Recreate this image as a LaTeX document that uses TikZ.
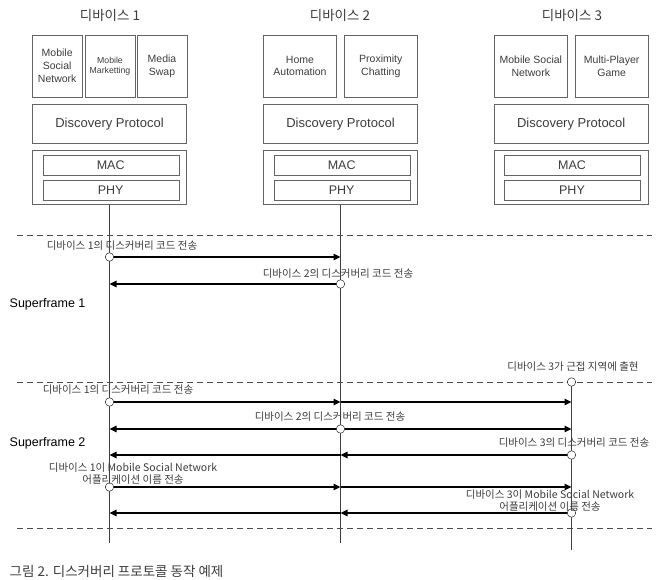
\documentclass[tikz,border=0pt]{standalone}
\usepackage{fontspec}
\setmainfont{Liberation Sans}
\newfontfamily\kr{Noto Sans CJK KR}
\usetikzlibrary{arrows.meta}
\definecolor{txtgray}{RGB}{60,60,60}
\definecolor{boxgray}{RGB}{100,100,100}
\begin{document}
\begin{tikzpicture}[x=1pt,y=-1pt]
\tikzstyle{app}=[draw=boxgray,minimum width=73pt,minimum height=62pt,inner sep=1pt,align=center,font=\fontsize{10.5}{12.8}\selectfont,text=txtgray]
\tikzstyle{layer}=[draw=boxgray,minimum width=154pt,inner sep=0pt,text=txtgray]
\tikzstyle{sub}=[draw=boxgray,minimum width=136pt,minimum height=20pt,inner sep=0pt,font=\fontsize{12.5}{14}\selectfont,text=txtgray]
\tikzstyle{dev}=[font=\kr\fontsize{13.5}{15}\selectfont,text=txtgray]
\tikzstyle{msg}=[font=\kr\fontsize{10.5}{12}\selectfont,text=txtgray,align=center,inner sep=1pt]
\tikzstyle{sf}=[font=\fontsize{12.5}{14}\selectfont,text=black,anchor=west,inner sep=0pt]
\tikzstyle{dot}=[draw,shape=circle,fill=white,inner sep=0pt,minimum size=8.5pt]
\tikzstyle{life}=[draw=black!75,line width=0.9pt]
\tikzstyle{sep}=[draw=black!70,dashed,dash pattern=on 6pt off 4pt,line width=0.8pt]
\tikzstyle{msgline}=[line width=1.5pt,-{Triangle[length=7pt,width=6.5pt]}]
\useasboundingbox (0,0) rectangle (667,580);

% devices
\node[dev] at (110,15) (t1) {디바이스 1};
\node[dev] at (340,15) (t2) {디바이스 2};
\node[dev] at (572,15) (t3) {디바이스 3};

\node[app,minimum width=49.5pt] at (57.2,66) (a11) {Mobile\\Social\\Network};
\node[app,minimum width=49.5pt,font=\fontsize{8.7}{10.4}\selectfont] at (110,66) (a12) {Mobile\\Marketting};
\node[app,minimum width=49.5pt] at (162,66) (a13) {Media\\Swap};
\node[app] at (300,66) (a21) {Home\\Automation};
\node[app] at (380.8,66) (a22) {Proximity\\Chatting};
\node[app] at (530.8,66) (a31) {Mobile Social\\Network};
\node[app] at (611.7,66) (a32) {Multi-Player\\Game};

\node[layer,minimum height=39.5pt,font=\fontsize{13}{15}\selectfont] at (109.5,123.7) (d1) {Discovery Protocol};
\node[layer,minimum height=39.5pt,font=\fontsize{13}{15}\selectfont] at (340.5,123.7) (d2) {Discovery Protocol};
\node[layer,minimum height=39.5pt,font=\fontsize{13}{15}\selectfont] at (571.2,123.7) (d3) {Discovery Protocol};

\node[layer,minimum height=54pt] at (109.5,177.7) (s1) {};
\node[layer,minimum height=54pt] at (340.5,177.7) (s2) {};
\node[layer,minimum height=54pt] at (571.2,177.7) (s3) {};
\node[sub] at (110.7,165.3) (m1) {MAC};
\node[sub] at (110.7,190) (p1) {PHY};
\node[sub] at (341.7,165.3) (m2) {MAC};
\node[sub] at (341.7,190) (p2) {PHY};
\node[sub] at (572,165.3) (m3) {MAC};
\node[sub] at (572,190) (p3) {PHY};

% lifelines
\coordinate (e1) at (109.5,543);
\coordinate (e2) at (340.5,543);
\coordinate (e3) at (571.5,550);
\draw[life] (s1.south) -- (e1);
\draw[life] (s2.south) -- (e2);

% superframe borders
\coordinate (l0) at (17,235);  \coordinate (r0) at (652,235);
\coordinate (l1) at (17,382);  \coordinate (r1) at (652,382);
\coordinate (l2) at (17,528);  \coordinate (r2) at (652,528);
\draw[sep] (l0) -- (r0);
\draw[sep] (l1) -- (r1);
\draw[sep] (l2) -- (r2);

\node[sf] at (9.5,304) (sf1) {Superframe 1};
\node[sf] at (9.5,443) (sf2) {Superframe 2};

% superframe 1
\node[dot] at (571.5,382) (n3) {};
\draw[life] (n3) -- (e3);

\coordinate (y1b) at (340.5,257);
\coordinate (y2a) at (109.5,284);
\node[dot] at (109.5,257) (y1) {};
\node[dot] at (340.5,284) (y2) {};
\draw[msgline] (y1) -- (y1b);
\draw[msgline] (y2) -- (y2a);
\node[msg] at (122,246) (txt1) {디바이스 1의 디스커버리 코드 전송};
\node[msg] at (338,273.5) (txt2) {디바이스 2의 디스커버리 코드 전송};
\node[msg] at (573,366.5) (txt3) {디바이스 3가 근접 지역에 출현};

% superframe 2
\coordinate (z1b) at (340.5,402);  \coordinate (z1c) at (571.5,402);
\coordinate (z2a) at (109.5,429);  \coordinate (z2c) at (571.5,429);
\coordinate (z3b) at (340.5,455);  \coordinate (z3a) at (109.5,455);
\coordinate (z4b) at (340.5,487);  \coordinate (z4c) at (571.5,487);
\coordinate (z5b) at (340.5,513);  \coordinate (z5a) at (109.5,513);
\node[dot] at (109.5,402) (z1) {};
\node[dot] at (340.5,429) (z2) {};
\node[dot] at (571.5,455) (z3) {};
\node[dot] at (109.5,487) (z4) {};
\node[dot] at (571.5,513) (z5) {};

\draw[msgline] (z1) -- (z1b);
\draw[msgline] (z1b) -- (z1c);
\draw[msgline] (z2) -- (z2a);
\draw[msgline] (z2) -- (z2c);
\draw[msgline] (z3) -- (z3b);
\draw[msgline] (z3b) -- (z3a);
\draw[msgline] (z4) -- (z4b);
\draw[msgline] (z4b) -- (z4c);
\draw[msgline] (z5) -- (z5b);
\draw[msgline] (z5b) -- (z5a);

\node[msg] at (118,390) (txt4) {디바이스 1의 디스커버리 코드 전송};
\node[msg] at (330,416.5) (txt5) {디바이스 2의 디스커버리 코드 전송};
\node[msg] at (574,442.5) (txt6) {디바이스 3의 디스커버리 코드 전송};
\node[msg] at (133,474) (txt7) {디바이스 1이 Mobile Social Network\\어플리케이션 이름 전송};
\node[msg] at (550,501) (txt8) {디바이스 3이 Mobile Social Network\\어플리케이션 이름 전송};

\node[anchor=west,font=\kr\fontsize{13.5}{15}\selectfont,text=txtgray,inner sep=0pt] at (9.5,571.5) (cap) {그림 2. 디스커버리 프로토콜 동작 예제};
\end{tikzpicture}
\end{document}
